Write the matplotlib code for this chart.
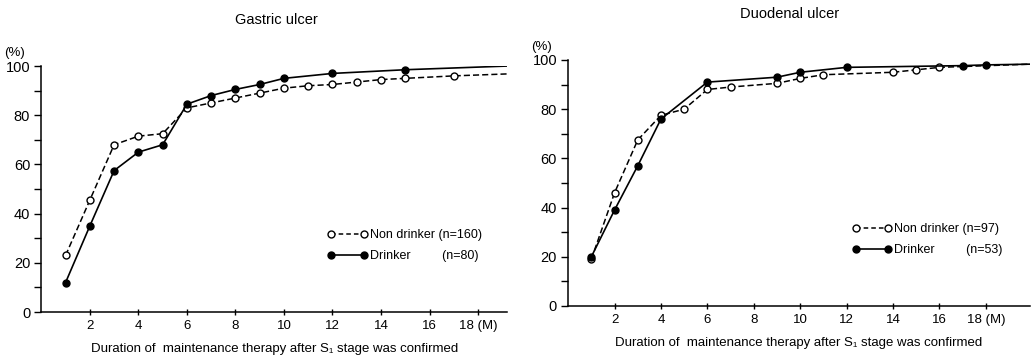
import matplotlib
matplotlib.use("Agg")
import matplotlib.pyplot as plt

# --- data ---
gastric_non_x = [1, 2, 3, 4, 5, 6, 7, 8, 9, 10, 11, 12, 13, 14, 15, 17, 19.2]
gastric_non_y = [23, 45.5, 68, 71.5, 72.5, 83, 85, 87, 89, 91, 92, 92.5, 93.5, 94.5, 95, 96, 96.8]
gastric_dr_x = [1, 2, 3, 4, 5, 6, 7, 8, 9, 10, 12, 15, 19.2]
gastric_dr_y = [12, 35, 57.5, 65, 68, 84.5, 88, 90.5, 92.5, 95, 97, 98.5, 100]
gastric_non_marked = 16   # last point is only the line running on to the edge
gastric_dr_marked = 12

duod_non_x = [1, 2, 3, 4, 5, 6, 7, 9, 10, 11, 14, 15, 16, 19.9]
duod_non_y = [19, 46, 67.5, 77.5, 80, 88, 89, 90.5, 92.5, 94, 95, 96, 97, 98.3]
duod_dr_x = [1, 2, 3, 4, 6, 9, 10, 12, 17, 18, 19.9]
duod_dr_y = [20, 39, 57, 76, 91, 93, 95, 97, 97.7, 98, 98.3]
duod_non_marked = 13
duod_dr_marked = 10

xtick_vals = [2, 4, 6, 8, 10, 12, 14, 16, 18]
xtick_labels = ["2", "4", "6", "8", "10", "12", "14", "16", "18 (M)"]

plt.rcParams['font.family'] = ['Liberation Sans', 'DejaVu Sans']

fig = plt.figure(figsize=(10.33, 3.57), dpi=100)


def draw_panel(rect, title, title_x, xmax, non_x, non_y, non_m, dr_x, dr_y, dr_m, labels, leg_anchor):
    ax = fig.add_axes(rect)
    # non drinker: dashed with open circles
    ax.plot(non_x, non_y, color="black", lw=1.1, ls=(0, (4, 2)))
    ax.plot(non_x[:non_m], non_y[:non_m], ls="none", marker="o", ms=5,
            mfc="white", mec="black", mew=1.0)
    # drinker: solid with filled circles
    ax.plot(dr_x, dr_y, color="black", lw=1.2)
    ax.plot(dr_x[:dr_m], dr_y[:dr_m], ls="none", marker="o", ms=5,
            mfc="black", mec="black")

    ax.set_xlim(0, xmax)
    ax.set_ylim(0, 100)
    ax.spines['top'].set_visible(False)
    ax.spines['right'].set_visible(False)
    ax.spines['left'].set_linewidth(1.1)
    ax.spines['bottom'].set_linewidth(1.1)
    ax.set_yticks([0, 20, 40, 60, 80, 100])
    ax.set_yticks([10, 30, 50, 70, 90], minor=True)
    ax.set_xticks(xtick_vals)
    ax.set_xticklabels(xtick_labels)
    ax.tick_params(axis='y', direction='out', length=5, width=1, labelsize=10.5, pad=3)
    ax.tick_params(axis='y', which='minor', direction='out', length=5, width=1)
    ax.tick_params(axis='x', direction='inout', length=4, width=1, labelsize=9.5, pad=4)
    ax.text(-0.035, 1.03, "(%)", transform=ax.transAxes, ha='right', va='bottom', fontsize=9.5)
    ax.set_xlabel("Duration of  maintenance therapy after S\u2081 stage was confirmed",
                  fontsize=9.5, labelpad=8)
    ax.set_title(title, fontsize=10.5, pad=30, x=title_x)

    h1, = ax.plot([], [], color="black", lw=1.1, ls=(0, (3, 2)), marker="o", ms=5,
                  mfc="white", mec="black")
    h2, = ax.plot([], [], color="black", lw=1.2, marker="o", ms=5, mfc="black", mec="black")
    ax.legend([h1, h2], labels, loc="center left", bbox_to_anchor=leg_anchor,
              frameon=False, numpoints=2, handlelength=3.2, handletextpad=0.2,
              fontsize=9, labelspacing=0.7)
    return ax


draw_panel([0.040, 0.126, 0.451, 0.689], "Gastric ulcer", 0.505, 19.2,
           gastric_non_x, gastric_non_y, gastric_non_marked,
           gastric_dr_x, gastric_dr_y, gastric_dr_marked,
           ["Non drinker (n=160)", "Drinker         (n=80)"], (0.59, 0.27))
draw_panel([0.550, 0.143, 0.447, 0.689], "Duodenal ulcer", 0.48, 19.9,
           duod_non_x, duod_non_y, duod_non_marked,
           duod_dr_x, duod_dr_y, duod_dr_marked,
           ["Non drinker (n=97)", "Drinker         (n=53)"], (0.59, 0.27))

fig.savefig("out.png", dpi=100)
